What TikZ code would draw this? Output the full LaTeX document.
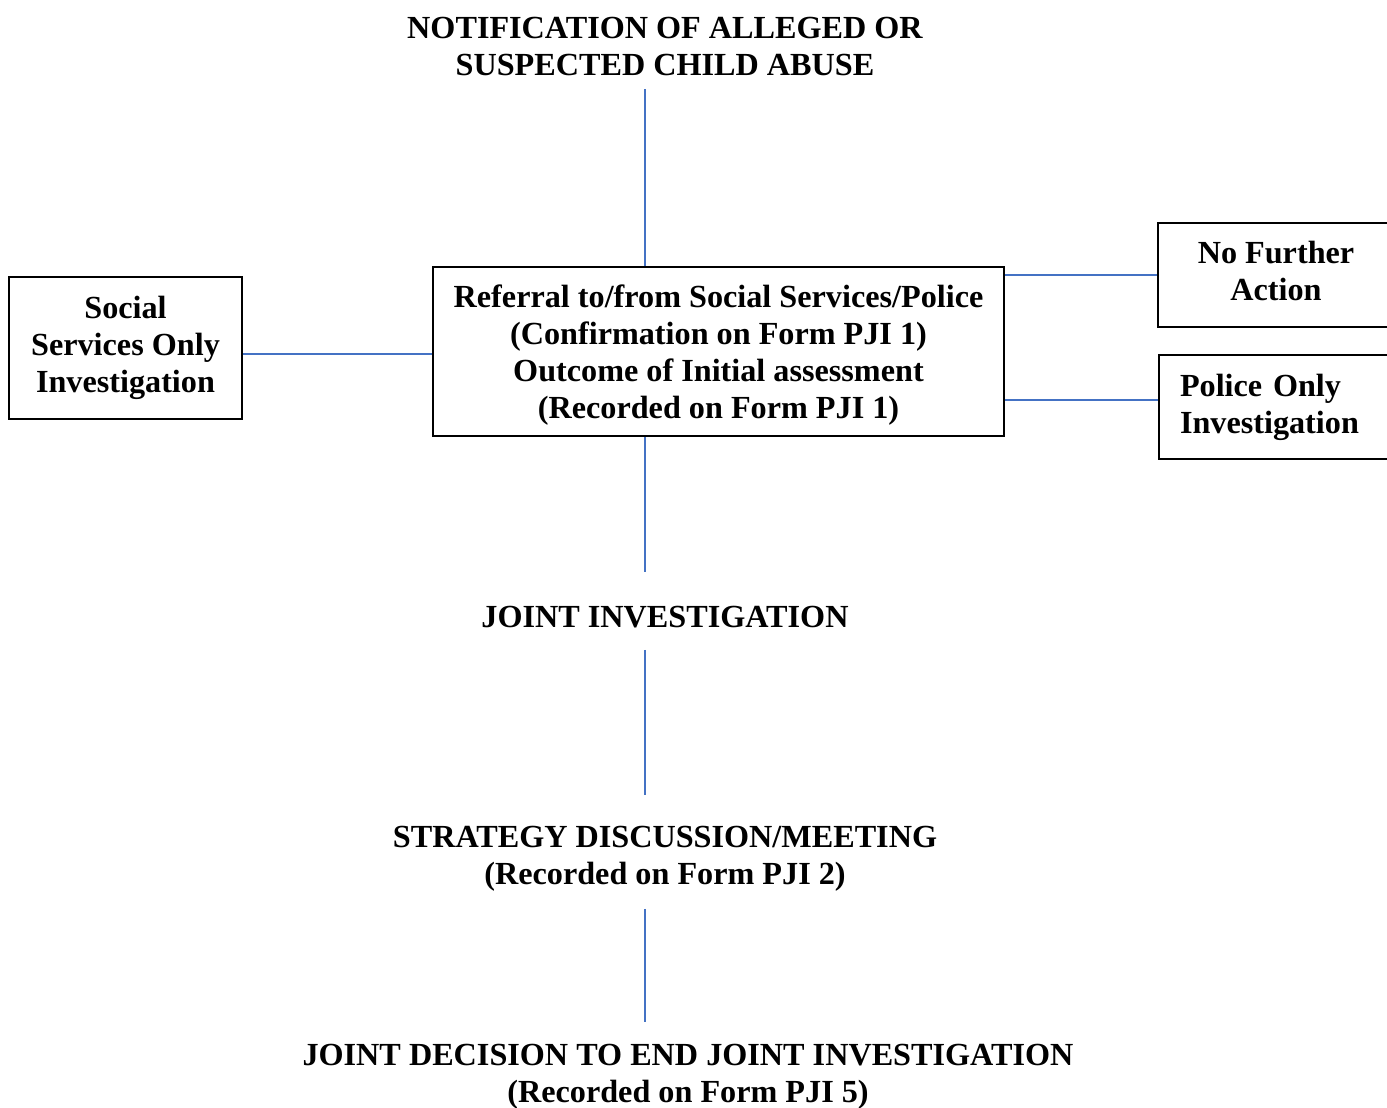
\documentclass[tikz,border=0pt]{standalone}
\usepackage{fontspec}
\setmainfont{Liberation Serif}
\definecolor{linkblue}{RGB}{68,114,196}

\begin{document}
\begin{tikzpicture}[x=0.5pt,y=-0.5pt,
		font=\bfseries\fontsize{16.1}{18.5}\selectfont,
		box/.style={draw,line width=1pt,align=center,inner sep=0pt},
		heading/.style={align=center,inner sep=0pt},
		link/.style={draw=linkblue,line width=1pt}]
				\path[use as bounding box,clip] (0,0) rectangle (1387,1108);
				% Joint investigation flow
				\node[heading] (Notification) at (665,46.5) {NOTIFICATION OF ALLEGED OR\\SUSPECTED CHILD ABUSE};
				\node[box,minimum width=285.5pt,minimum height=84.5pt,text depth=0pt] (Referral) at (718.5,351.5) {Referral to/from Social Services/Police\\(Confirmation on Form PJI 1)\\Outcome of Initial assessment\\(Recorded on Form PJI 1)};
				\node[box,minimum width=116.5pt,minimum height=71pt] (SocialOnly) at (125.5,348) {Social\\Services Only\\Investigation};
				\node[box,minimum width=118pt,minimum height=52pt,text depth=4pt] (NoAction) at (1276,275) {No Further\\Action};
				\node[box,align=left,text width=97pt,inner xsep=10.5pt,minimum height=52pt] (PoliceOnly) at (1277,407) {Police Only\\Investigation};
				\node[heading] (Joint) at (665,617) {JOINT INVESTIGATION};
				\node[heading] (Strategy) at (665,859) {STRATEGY DISCUSSION/MEETING\\(Recorded on Form PJI 2)};
				\node[heading] (EndJoint) at (688,1077) {JOINT DECISION TO END JOINT INVESTIGATION\\(Recorded on Form PJI 5)};
				\coordinate (Spine) at (645,0);
				
				\draw[link,shorten <=6.5pt] (Notification.south -| Spine) to (Referral.north -| Spine);
				\draw[link,shorten >=16.75pt] (Referral.south -| Spine) to (Joint.north -| Spine);
				\draw[link,shorten <=10.75pt,shorten >=15.75pt] (Joint.south -| Spine) to (Strategy.north -| Spine);
				\draw[link,shorten <=8.5pt,shorten >=11pt] (Strategy.south -| Spine) to (EndJoint.north -| Spine);
				\draw[link] (SocialOnly.east |- 0,354) to (Referral.west |- 0,354);
				\draw[link] (Referral.east |- NoAction.west) to (NoAction.west);
				\draw[link] ([yshift=3.5pt]PoliceOnly.west -| Referral.east) to ([yshift=3.5pt]PoliceOnly.west);
				
				\end{tikzpicture}
\end{document}
